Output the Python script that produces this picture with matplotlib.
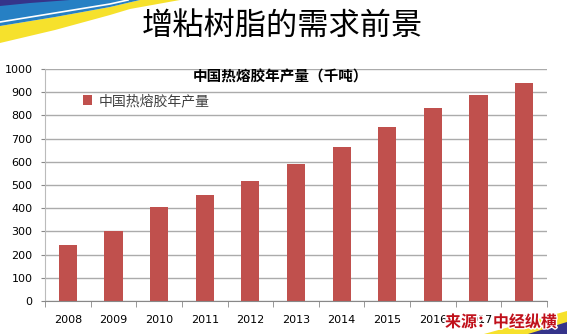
import matplotlib
matplotlib.use("Agg")
import matplotlib.pyplot as plt
import matplotlib.patheffects as pe
from matplotlib.patches import Polygon
import numpy as np

years = ["2008", "2009", "2010", "2011", "2012", "2013", "2014", "2015", "2016", "2017", "2018"]
production = [240, 300, 405, 457, 518, 592, 665, 750, 832, 888, 940]
yticks = [0, 100, 200, 300, 400, 500, 600, 700, 800, 900, 1000]

slide_title = "增粘树脂的需求前景"
chart_title = "中国热熔胶年产量（千吨）"
series_name = "中国热熔胶年产量"
source_text = "来源：中经纵横"

CJK = ["Noto Sans CJK SC", "DejaVu Sans"]
W, H = 567, 334
fig = plt.figure(figsize=(W / 100, H / 100), dpi=100)
fig.patch.set_facecolor("white")

# background decoration axes in pixel coordinates
bg = fig.add_axes([0, 0, 1, 1], zorder=0)
bg.set_xlim(0, W)
bg.set_ylim(H, 0)
bg.axis("off")
blue = "#2680C4"
navy = "#35348A"
yellow = "#F6E12C"
# top-left swoosh
yellow_poly = [(0, 43), (55, 30), (110, 15), (130, 9), (180, 0), (140, 0), (110, 7), (55, 17), (0, 26)]
blue_poly = [(0, 0), (140, 0), (110, 7), (55, 17), (0, 26)]
navy_poly = [(0, 0), (70, 0), (30, 3), (0, 6)]
bg.add_patch(Polygon(yellow_poly, closed=True, color=yellow, lw=0))
bg.add_patch(Polygon(blue_poly, closed=True, color=blue, lw=0))
bg.add_patch(Polygon(navy_poly, closed=True, color=navy, lw=0))
bg.plot([0, 55, 110, 128], [22, 13, 4, 0], color="white", lw=1.2)
# bottom-right swoosh
bg.add_patch(Polygon([(484, 334), (567, 311), (567, 334)], closed=True, color=yellow, lw=0))
bg.add_patch(Polygon([(528, 334), (567, 322), (567, 334)], closed=True, color=navy, lw=0))

# slide title
fig.text(282.5 / W, 1 - 26 / H, slide_title, family=CJK, fontsize=22.5,
         ha="center", va="center", color="black")

# chart axes
x0, x1 = 45, 547
yb, yt = 301, 69
ax = fig.add_axes([x0 / W, (H - yb) / H, (x1 - x0) / W, (yb - yt) / H], zorder=1)
ax.patch.set_alpha(0)
x = np.arange(len(years))
bars = ax.bar(x, production, width=0.4, color="#C0504D", zorder=2, label=series_name)
ax.set_xlim(-0.5, len(years) - 0.5)
ax.set_ylim(0, 1000)
ax.set_yticks(yticks)
ax.set_yticklabels([str(v) for v in yticks], fontsize=8, family="DejaVu Sans")
ax.yaxis.grid(True, color="#ABABAB", lw=1)
ax.set_axisbelow(True)
ax.set_xticks(x)
ax.set_xticklabels(years, fontsize=8, family="DejaVu Sans")
ax.set_xticks(np.arange(-0.5, len(years)), minor=True)
ax.tick_params(axis="x", which="major", length=0, pad=10)
ax.tick_params(axis="x", which="minor", length=4, color="#888888", direction="out")
ax.tick_params(axis="y", length=3, color="#888888", pad=6)
for s in ["top", "right"]:
    ax.spines[s].set_visible(False)
ax.spines["left"].set_color("#BBBBBB")
ax.spines["bottom"].set_color("#888888")

# chart title
fig.text(280 / W, 1 - 76.5 / H, chart_title, family=CJK, fontsize=10.5,
         fontweight="bold", ha="center", va="center", color="black")

# legend
leg = ax.legend(handles=[bars], labels=[series_name], loc="center left",
                bbox_to_anchor=(70 / W, 1 - 101 / H), bbox_transform=fig.transFigure,
                frameon=False, handlelength=0.7, handleheight=0.7, handletextpad=0.5,
                prop={"family": CJK, "size": 10})
for t in leg.get_texts():
    t.set_color("#404040")

# source note
fig.text(501 / W, 1 - 322 / H, source_text, family=CJK, fontsize=11.5,
         fontweight="bold", ha="center", va="center", color="#C0101A", zorder=5,
         path_effects=[pe.withStroke(linewidth=2, foreground="white")])

fig.savefig("out.png", dpi=100)
